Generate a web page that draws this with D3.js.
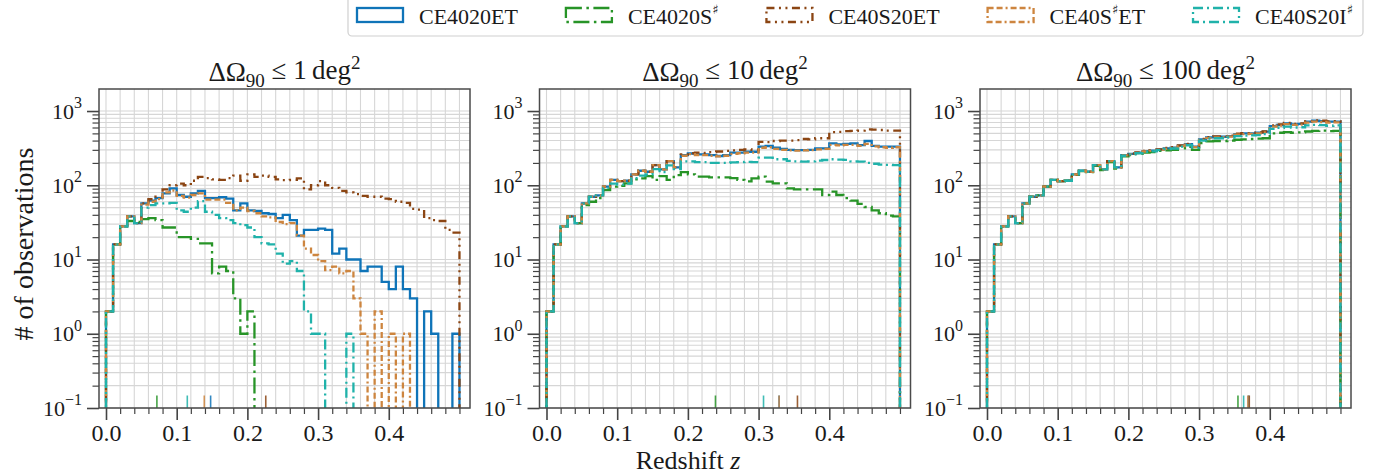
<!DOCTYPE html>
<html><head><meta charset="utf-8">
<script src="https://cdn.jsdelivr.net/npm/d3@7"></script>
<style>
html,body{margin:0;padding:0;background:#fff;}
svg text{font-family:"Liberation Serif","Times New Roman",serif;fill:#1a1a1a;}
</style></head><body><svg id="chart" width="1377" height="476"></svg>
<script>
// ---- categories -------------------------------------------------------
const seriesNames = ["CE4020ET", "CE4020S♯", "CE40S20ET", "CE40S♯ET", "CE40S20I♯"];
const panelLimits = ["1", "10", "100"];           // ΔΩ90 threshold in deg²
const binEdges = d3.range(0, 0.5001, 0.01);        // redshift bins, width 0.01
const xTickValues = [0, 0.1, 0.2, 0.3, 0.4];
const xTickLabels = ["0.0", "0.1", "0.2", "0.3", "0.4"];
const yTickValues = [0.1, 1, 10, 100, 1000];
const yTickExponents = ["−1", "0", "1", "2", "3"];

// ---- counts per redshift bin: ΔΩ90 ≤ 1 deg² -----------------------------
const ce4020et_1 = [2,16,28,38,31,57,62,67,78,91,74,70,78,84,67,67,69,66,46,57,46,45,42,41,36,40,34,21,25,25,26,25,12,14,10,10,7,8,8,5,4,8,4,3,0,2,1,0,0,1];
const ce4020s_1  = [2,16,28,33,32,35,36,34,27,27,20,20,19,16.5,16.5,6.5,8,7,3,1,2,0,0,0,0,0,0,0,0,0,0,0,0,0,0,0,0,0,0,0,0,0,0,0,0,0,0,0,0,0];
const ce40s20et_1 = [2,16,28,38,31,57,65,70,88,100,105,100,115,130,125,120,118,125,135,115,140,130,135,130,120,117,118,124,88,100,114,100,92,84,80,76,72,70,70,66,65,60,58,48,47,36,34,33,25,23];
const ce40set_1  = [2,16,28,38,31,55,60,65,80,85,72,68,74,78,64,64,64,58,46,50,45,42,38,37,32,30,31,21,14,11.5,9.5,7.2,8,6.5,7,3,1,0,2,0,1,0,1,0,0,0,0,0,0,0];
const ce40s20i_1 = [2,16,28,38,31,50,54,57,57,58,46,44,50,61,44,40,36,34,31,29,27,20,16.5,16,12,8.8,9.5,7,2,1,1,0,0,0,1,0,0,0,0,0,0,0,0,0,0,0,0,0,0,0];

// ---- ΔΩ90 ≤ 10 deg² ------------------------------------------------------
const ce4020et_10 = [2,16,28,38,31,57,70,73,96,118,114,115,140,157,152,187,164,212,174,255,268,260,260,255,248,255,275,275,283,283,331,338,320,308,300,298,298,300,314,314,366,356,360,366,347,395,340,331,331,331];
const ce4020s_10  = [2,16,28,38,31,54,60,67,86,96,98,106,120,124,133,118,133,118,137,150,140,131,131,128,128,128,125,118,113,124,131,112,106,106,91,88,88,88,88,74,82,74,67,62,56,51,46,42,39,38];
const ce40s20et_10 = [2,16,28,38,31,57,70,73,96,118,114,115,140,157,152,187,164,212,174,260,270,275,272,280,285,290,295,300,305,300,385,380,395,400,400,405,420,415,430,430,520,525,535,540,545,565,560,555,545,545];
const ce40set_10  = [2,16,28,38,31,57,70,73,96,118,114,115,140,157,152,187,164,212,174,250,262,255,255,250,245,250,265,270,275,275,320,325,310,300,295,292,295,298,305,310,350,345,350,350,340,360,335,325,320,325];
const ce40s20i_10 = [2,16,28,38,31,57,70,73,92,105,102,105,125,135,140,165,150,185,165,210,210,205,205,200,200,200,203,205,207,205,235,235,224,224,213,210,208,210,215,219,224,222,220,210,208,200,195,190,188,187];

// ---- ΔΩ90 ≤ 100 deg² -----------------------------------------------------
const ce4020et_100 = [2,16,28,38,31,57,70,73,96,118,114,115,140,157,152,187,164,212,174,255,265,275,289,292,305,314,321,341,359,331,415,441,450,450,460,490,500,500,511,527,628,648,682,662,670,718,741,730,718,718];
const ce4020s_100  = [2,16,28,38,31,57,70,73,96,118,114,115,138,155,150,183,160,205,168,245,255,265,275,280,290,295,300,315,330,300,370,390,395,395,400,410,415,420,425,430,500,510,520,510,515,530,540,545,535,540];
const ce40s20et_100 = [2,16,28,38,31,57,70,73,96,118,114,115,140,157,152,187,164,212,174,255,268,278,290,295,305,318,325,345,360,335,420,445,455,455,465,495,505,505,515,530,640,660,690,670,680,725,750,740,725,730];
const ce40set_100  = [2,16,28,38,31,57,70,73,96,118,114,115,140,157,152,187,164,212,174,252,262,272,285,290,300,310,318,336,352,326,408,432,442,445,452,480,490,492,500,515,615,635,665,650,655,700,720,712,700,705];
const ce40s20i_100 = [2,16,28,38,31,57,70,73,96,118,114,115,140,157,152,187,164,212,174,250,260,270,283,286,298,306,313,331,346,322,400,425,430,430,440,460,465,470,475,490,575,595,615,600,605,640,650,645,630,640];

// short markers along the bottom of each panel (redshift, per series)
const markers_1   = [0.148, 0.072, 0.226, 0.139, 0.115];
const markers_10  = [0.329, 0.239, 0.355, 0.329, 0.307];
const markers_100 = [0.370, 0.355, 0.371, 0.369, 0.363];

const panels = [
  {limit: panelLimits[0], counts: [ce4020et_1, ce4020s_1, ce40s20et_1, ce40set_1, ce40s20i_1], markers: markers_1},
  {limit: panelLimits[1], counts: [ce4020et_10, ce4020s_10, ce40s20et_10, ce40set_10, ce40s20i_10], markers: markers_10},
  {limit: panelLimits[2], counts: [ce4020et_100, ce4020s_100, ce40s20et_100, ce40set_100, ce40s20i_100], markers: markers_100}
];

// ---- styling ------------------------------------------------------------
const colors = ["#0f74b8", "#279427", "#8b4513", "#cd853f", "#20b2aa"];
const dashes = [null, "16,4.5,2.5,4.5", "8,4.5,2,4.5,2,4.5", "6,3,6,3,2,3", "10,4,2,4"];
const lineW = 2.3;

const svg = d3.select("#chart");
const panelLeft = [99, 539.5, 980];
const panelW = 371, panelTop = 89, panelBottom = 408;

const x = d3.scaleLinear().domain([-0.0099, 0.5149]).range([0, panelW]);
const y = d3.scaleLog().domain([0.1, 1980]).range([panelBottom, panelTop]);

const xMinor = d3.range(0, 0.5001, 0.02);
const yMinor = [];
[-1, 0, 1, 2, 3].forEach(e => { for (let m = 2; m <= 9; m++) { const v = m * Math.pow(10, e); if (v < 1980) yMinor.push(v); } });

function stepPath(counts) {
  const below = panelBottom + 20;
  const pts = [[x(binEdges[0]), below]];
  counts.forEach((c, i) => {
    const yy = c > 0 ? y(c) : below;
    pts.push([x(binEdges[i]), yy]);
    pts.push([x(binEdges[i + 1]), yy]);
  });
  pts.push([x(binEdges[counts.length]), below]);
  return d3.line()(pts);
}

panels.forEach((p, pi) => {
  const g = svg.append("g").attr("transform", `translate(${panelLeft[pi]},0)`);
  const clipId = "clip" + pi;
  g.append("clipPath").attr("id", clipId).append("rect")
    .attr("x", 0).attr("y", panelTop).attr("width", panelW).attr("height", panelBottom - panelTop);

  // grid
  const grid = g.append("g").attr("stroke", "#d6d6d6").attr("stroke-width", 1.1);
  grid.selectAll("line.v").data(xMinor).join("line")
    .attr("x1", d => x(d)).attr("x2", d => x(d)).attr("y1", panelTop).attr("y2", panelBottom);
  grid.selectAll("line.h").data(yTickValues.concat(yMinor)).join("line")
    .attr("x1", 0).attr("x2", panelW).attr("y1", d => y(d)).attr("y2", d => y(d));

  // histograms
  const lines = g.append("g").attr("clip-path", `url(#${clipId})`);
  p.counts.forEach((c, si) => {
    lines.append("path").attr("d", stepPath(c))
      .attr("fill", "none").attr("stroke", colors[si]).attr("stroke-width", lineW)
      .attr("stroke-linejoin", "miter").attr("stroke-dasharray", dashes[si]);
  });

  // markers
  g.append("g").selectAll("line").data(p.markers).join("line")
    .attr("x1", d => x(d)).attr("x2", d => x(d))
    .attr("y1", panelBottom - 12.5).attr("y2", panelBottom)
    .attr("stroke", (d, i) => colors[i]).attr("stroke-width", 1.6).attr("opacity", 0.85);

  // axes
  const xAxis = d3.axisBottom(x).tickValues(xTickValues).tickSize(12).tickPadding(4)
    .tickFormat((d, i) => xTickLabels[i]);
  const xAxisMinor = d3.axisBottom(x).tickValues(xMinor.filter(v => !xTickValues.some(t => Math.abs(t - v) < 1e-9)))
    .tickSize(6).tickFormat("");
  const yAxis = d3.axisLeft(y).tickValues(yTickValues).tickSize(12).tickPadding(5).tickFormat("");
  const yAxisMinor = d3.axisLeft(y).tickValues(yMinor).tickSize(6.5).tickFormat("");

  const gx = g.append("g").attr("transform", `translate(0,${panelBottom})`).call(xAxis);
  g.append("g").attr("transform", `translate(0,${panelBottom})`).call(xAxisMinor);
  const gy = g.append("g").call(yAxis);
  g.append("g").call(yAxisMinor);
  g.selectAll(".domain").remove();
  g.selectAll(".tick line").attr("stroke", "#444").attr("stroke-width", 1.2);
  gx.selectAll(".tick line").attr("stroke-width", 1.6);
  gy.selectAll(".tick line").attr("stroke-width", 1.6);
  gx.selectAll("text").attr("font-size", 24).attr("font-family", "Liberation Serif");

  gy.selectAll(".tick").each(function (d, i) {
    const t = d3.select(this).append("text").attr("x", -17).attr("dy", "0.32em")
      .attr("text-anchor", "end").attr("font-size", 22);
    t.append("tspan").text("10");
    t.append("tspan").text(yTickExponents[i]).attr("font-size", 16).attr("dy", "-0.65em");
  });

  // frame
  g.append("rect").attr("x", 0).attr("y", panelTop).attr("width", panelW).attr("height", panelBottom - panelTop)
    .attr("fill", "none").attr("stroke", "#4a4a4a").attr("stroke-width", 1.5);

  // title
  const tt = g.append("text").attr("x", panelW / 2).attr("y", 81).attr("text-anchor", "middle").attr("font-size", 27);
  tt.append("tspan").text("ΔΩ");
  tt.append("tspan").text("90").attr("font-size", 19).attr("dy", "0.3em");
  tt.append("tspan").text(" ≤ " + p.limit + "\u2009deg").attr("dy", "-0.3em");
  tt.append("tspan").text("2").attr("font-size", 19).attr("dy", "-0.5em");
});

// axis labels
svg.append("text").attr("transform", "translate(33,244) rotate(-90)")
  .attr("text-anchor", "middle").attr("font-size", 28).text("# of observations");
const xl = svg.append("text").attr("x", 688).attr("y", 469).attr("text-anchor", "middle").attr("font-size", 26);
xl.append("tspan").text("Redshift ");
xl.append("tspan").text("z").attr("font-style", "italic");

// legend: one row, entries spread between the frame's inner edges
const leg = svg.append("g");
leg.append("rect").attr("x", 348).attr("y", -6).attr("width", 1015).attr("height", 42).attr("rx", 4)
  .attr("fill", "#fff").attr("stroke", "#d0d0d0").attr("stroke-width", 1.2);
const handleW = 46, handleGap = 16, legStart = 357, legEnd = 1353;
const entries = seriesNames.map((name, i) => {
  const e = leg.append("g");
  e.append("rect").attr("x", 0).attr("y", 8).attr("width", handleW).attr("height", 14)
    .attr("fill", "none").attr("stroke", colors[i]).attr("stroke-width", lineW)
    .attr("stroke-dasharray", dashes[i]);
  const t = e.append("text").attr("x", handleW + handleGap).attr("y", 24).attr("font-size", 22);
  const parts = name.split("♯");
  if (parts.length > 1) {
    t.append("tspan").text(parts[0]);
    t.append("tspan").text("♯").attr("font-size", 13).attr("dy", "-0.8em").attr("font-family", "DejaVu Serif");
    if (parts[1]) t.append("tspan").text(parts[1]).attr("dy", "0.47em");
  } else {
    t.text(name);
  }
  return {g: e, w: handleW + handleGap + t.node().getComputedTextLength()};
});
const colGap = (legEnd - legStart - d3.sum(entries, d => d.w)) / (entries.length - 1);
let lx = legStart;
entries.forEach(d => { d.g.attr("transform", `translate(${lx},0)`); lx += d.w + colGap; });
</script></body></html>
